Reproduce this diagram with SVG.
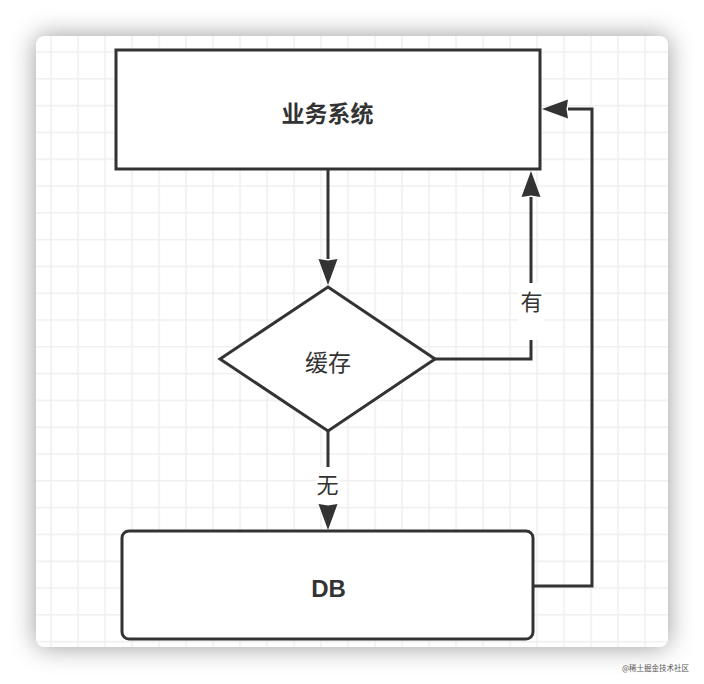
<svg xmlns="http://www.w3.org/2000/svg" width="704" height="684" viewBox="0 0 704 684">
  <defs>
    <filter id="shadow" x="-20%" y="-20%" width="140%" height="140%">
      <feDropShadow dx="0" dy="0" stdDeviation="13" flood-color="#000" flood-opacity="0.4"/>
    </filter>
    <pattern id="grid" patternUnits="userSpaceOnUse" x="50.25" y="51.25" width="27" height="26.8">
      <path d="M0.75,0 V26.8 M0,0.75 H27" fill="none" stroke="#efefef" stroke-width="1.6"/>
    </pattern>
    <clipPath id="cardClip">
      <rect x="36" y="36" width="632" height="611" rx="9"/>
    </clipPath>
    <marker id="arrow" markerUnits="userSpaceOnUse" viewBox="0 0 26 19" refX="0" refY="9.5" markerWidth="26" markerHeight="19" orient="auto" overflow="visible">
      <path d="M0,0 L26,9.5 L0,19 L1.5,9.5 Z" fill="#333"/>
    </marker>
    <style>
      .node { fill: #fff; stroke: #333; stroke-width: 3; }
      .conn { fill: none; stroke: #333; stroke-width: 3; marker-end: url(#arrow); }
      .cjk { font-family: "Noto Sans CJK SC", "Noto Sans", sans-serif; fill: #333; text-anchor: middle; dominant-baseline: central; }
      .lbl { fill: #fff; stroke: none; }
    </style>
  </defs>

  <rect x="0" y="0" width="704" height="684" fill="#fff"/>
  <g id="card">
    <rect x="36" y="36" width="632" height="611" rx="9" fill="#fff" filter="url(#shadow)"/>
    <rect x="36" y="36" width="632" height="611" fill="url(#grid)" clip-path="url(#cardClip)"/>
  </g>

  <g id="connectors">
    <path class="conn" d="M328,169 L328,259"/>
    <path class="conn" d="M328,431 L328,504"/>
    <path class="conn" d="M435,359 L531,359 L531,197"/>
    <path class="conn" d="M533,586 L592,586 L592,109 L568,109"/>
    <rect class="lbl" x="316" y="467" width="24" height="37"/>
    <text class="cjk" x="327.5" y="483" font-size="22">无</text>
    <rect class="lbl" x="518" y="283" width="26" height="57"/>
    <text class="cjk" x="531.5" y="300" font-size="22">有</text>
  </g>

  <g id="node-business">
    <rect class="node" x="116" y="50" width="424" height="119"/>
    <text class="cjk" x="327.5" y="111.5" font-size="23" font-weight="bold">业务系统</text>
  </g>

  <g id="node-cache">
    <polygon class="node" points="328,287 435,359 328,431 220,359"/>
    <text class="cjk" x="328" y="361" font-size="23">缓存</text>
  </g>

  <g id="node-db">
    <rect class="node" x="122" y="531" width="411" height="108" rx="7"/>
    <text x="328.5" y="588" font-family="Liberation Sans, Arial, sans-serif" font-size="24" font-weight="bold" fill="#333" text-anchor="middle" dominant-baseline="central">DB</text>
  </g>

  <text x="689" y="667" font-family="Noto Sans CJK SC, sans-serif" font-size="7.5" fill="#555" text-anchor="end" dominant-baseline="central">@稀土掘金技术社区</text>
</svg>
